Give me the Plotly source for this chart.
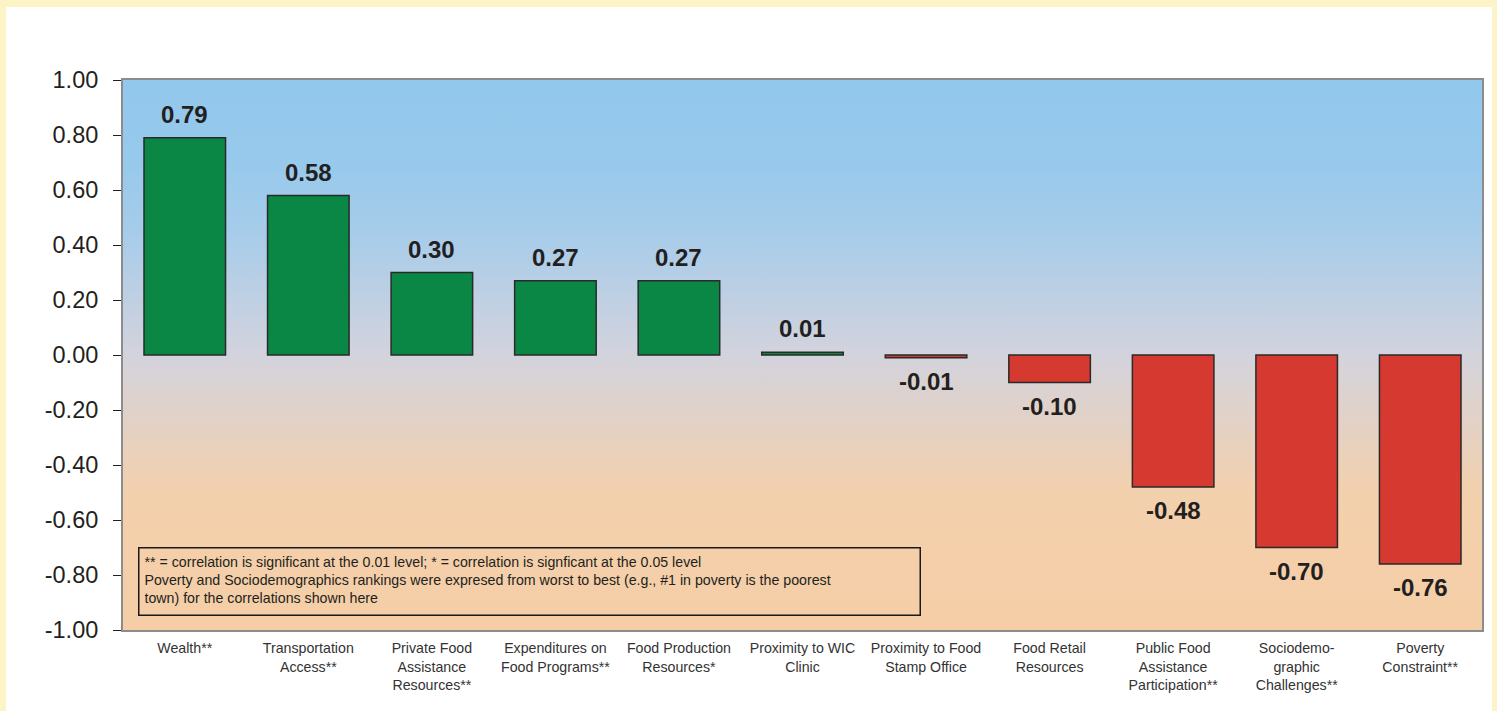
import plotly.graph_objects as go

# Correlation of each food-environment dimension with the overall ranking
categories = [
    "Wealth**",
    "Transportation<br>Access**",
    "Private Food<br>Assistance<br>Resources**",
    "Expenditures on<br>Food Programs**",
    "Food Production<br>Resources*",
    "Proximity to WIC<br>Clinic",
    "Proximity to Food<br>Stamp Office",
    "Food Retail<br>Resources",
    "Public Food<br>Assistance<br>Participation**",
    "Sociodemo-<br>graphic<br>Challenges**",
    "Poverty<br>Constraint**",
]
correlations = [0.79, 0.58, 0.30, 0.27, 0.27, 0.01, -0.01, -0.10, -0.48, -0.70, -0.76]
y_ticks = [-1.0, -0.8, -0.6, -0.4, -0.2, 0.0, 0.2, 0.4, 0.6, 0.8, 1.0]

note_text = (
    "** = correlation is significant at the 0.01 level; * = correlation is signficant at the 0.05 level<br>"
    "Poverty and Sociodemographics rankings were expresed from worst to best (e.g., #1 in poverty is the poorest<br>"
    "town) for the correlations shown here"
)

GREEN = "#0A8744"
RED = "#D6392F"
OUTLINE = "#2A2A2A"
TEXT = "#231F20"
FONT = "Liberation Sans, Arial, sans-serif"

n = len(categories)
x_pos = list(range(n))
x_range = [-0.5, n - 0.5]
y_range = [y_ticks[0], y_ticks[-1]]

fig = go.Figure()

# Gradient background of the plotting area (peach at the bottom, blue at the top),
# drawn on the base axes so the bars on the overlaying axes sit above it
fig.add_trace(go.Scatter(
    x=[x_range[0], x_range[1], x_range[1], x_range[0], x_range[0]],
    y=[y_range[0], y_range[0], y_range[1], y_range[1], y_range[0]],
    mode="lines",
    line=dict(width=0),
    fill="toself",
    fillgradient=dict(
        type="vertical",
        colorscale=[
            [0.0, "#F5CEA6"],
            [0.25, "#F3D0AD"],
            [0.5, "#D3D3DD"],
            [0.72, "#A7CCEA"],
            [0.85, "#97C9EC"],
            [1.0, "#92C8EC"],
        ],
    ),
    hoverinfo="skip",
    showlegend=False,
    xaxis="x",
    yaxis="y",
))

fig.add_trace(go.Bar(
    x=x_pos,
    y=correlations,
    width=0.66,
    marker=dict(
        color=[GREEN if v >= 0 else RED for v in correlations],
        line=dict(color=OUTLINE, width=1.5),
    ),
    showlegend=False,
    xaxis="x2",
    yaxis="y2",
))

# Value labels above positive bars and below negative bars
for xi, v in zip(x_pos, correlations):
    fig.add_annotation(
        x=xi, y=v, xref="x2", yref="y2",
        text=f"<b>{v:.2f}</b>",
        showarrow=False,
        yanchor="bottom" if v >= 0 else "top",
        yshift=8 if v >= 0 else -8,
        font=dict(family=FONT, size=24, color=TEXT),
    )

# Footnote box
fig.add_annotation(
    x=0.011, y=0.151, xref="paper", yref="paper",
    xanchor="left", yanchor="top",
    text=note_text,
    showarrow=False,
    align="left",
    valign="top",
    width=770,
    height=56,
    borderpad=5,
    bordercolor="#1A1A1A",
    borderwidth=1.5,
    font=dict(family="Liberation Sans Narrow, " + FONT, size=14.2, color=TEXT),
)

# White panel inside the cream frame
fig.add_shape(
    type="rect", xref="paper", yref="paper",
    x0=-0.0861, x1=1.0074, y0=-0.2, y1=1.1327,
    fillcolor="white", line=dict(width=0), layer="below",
)

fig.update_layout(
    width=1497,
    height=711,
    margin=dict(l=123, r=15, t=80, b=81),
    paper_bgcolor="#FCF3C7",
    plot_bgcolor="rgba(0,0,0,0)",
    bargap=0.34,
    font=dict(family=FONT, color=TEXT),
    xaxis=dict(
        range=x_range,
        tickmode="array",
        tickvals=x_pos,
        ticktext=categories,
        tickfont=dict(family=FONT, size=14.2, color="#333333"),
        showgrid=False,
        zeroline=False,
        showline=True,
        linecolor="#8C8C8C",
        linewidth=2,
        mirror=True,
        ticks="",
        ticklabelstandoff=4,
    ),
    yaxis=dict(
        range=y_range,
        tickmode="array",
        tickvals=y_ticks,
        ticktext=[f"{v:.2f}" for v in y_ticks],
        tickfont=dict(family=FONT, size=23.5, color=TEXT),
        ticks="outside",
        ticklen=8,
        tickwidth=1.2,
        tickcolor=TEXT,
        showgrid=False,
        zeroline=True,
        zerolinecolor="#5A5A5A",
        zerolinewidth=1.5,
        showline=True,
        linecolor="#8C8C8C",
        linewidth=2,
        mirror=True,
        ticklabelstandoff=10,
    ),
    xaxis2=dict(overlaying="x", range=x_range, visible=False),
    yaxis2=dict(overlaying="y", range=y_range, visible=False),
)

fig.write_html("out.html")
